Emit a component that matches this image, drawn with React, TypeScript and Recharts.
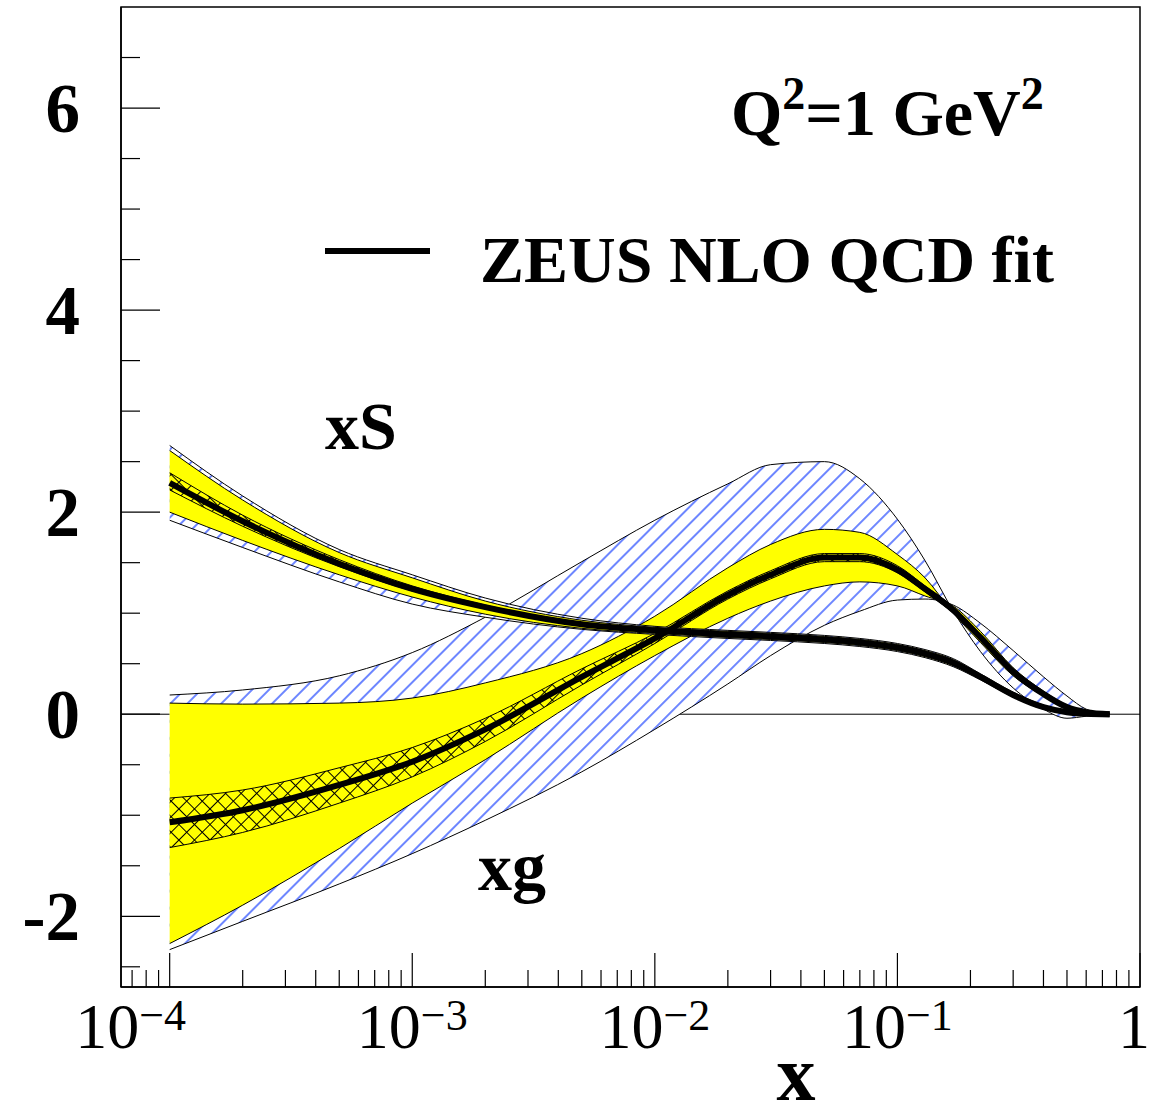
import { ComposedChart, Area, Line, XAxis, YAxis, ReferenceArea, CartesianGrid } from 'recharts';

// x grid (log) and the curves
const xValues = [1e-4, 2e-4, 5e-4, 1e-3, 2e-3, 5e-3, 1e-2, 2e-2, 3e-2, 5e-2, 7e-2, 0.1, 0.13, 0.17, 0.22, 0.3, 0.4, 0.5, 0.6, 0.75];

// sea quark xS
const xsCentral = [2.29, 1.91, 1.49, 1.24, 1.06, 0.89, 0.83, 0.79, 0.77, 0.74, 0.71, 0.66, 0.6, 0.51, 0.37, 0.19, 0.07, 0.02, 0.005, 0];
const xsModelLo = [1.92, 1.65, 1.31, 1.09, 0.96, 0.84, 0.79, 0.75, 0.73, 0.7, 0.67, 0.62, 0.56, 0.47, 0.34, 0.17, 0.05, 0.01, 0, 0];
const xsModelHi = [2.66, 2.16, 1.63, 1.38, 1.15, 0.95, 0.87, 0.83, 0.81, 0.78, 0.75, 0.7, 0.64, 0.55, 0.4, 0.22, 0.09, 0.03, 0.01, 0];
const xsExpLo = [2.0, 1.72, 1.38, 1.16, 0.99, 0.85, 0.8, 0.76, 0.74, 0.71, 0.68, 0.63, 0.57, 0.48, 0.35, 0.175, 0.06, 0.015, 0.002, 0];
const xsExpHi = [2.61, 2.12, 1.6, 1.35, 1.12, 0.93, 0.86, 0.82, 0.8, 0.77, 0.74, 0.69, 0.63, 0.54, 0.39, 0.205, 0.08, 0.025, 0.008, 0];
const xsInnerLo = [2.22, 1.86, 1.46, 1.22, 1.05, 0.88, 0.82, 0.78, 0.76, 0.73, 0.7, 0.65, 0.59, 0.5, 0.36, 0.185, 0.065, 0.018, 0.004, 0];
const xsInnerHi = [2.39, 1.97, 1.53, 1.27, 1.08, 0.9, 0.84, 0.8, 0.78, 0.75, 0.72, 0.67, 0.61, 0.52, 0.38, 0.195, 0.075, 0.022, 0.006, 0];

// gluon xg
const xgCentral = [-1.07, -0.95, -0.7, -0.47, -0.15, 0.37, 0.75, 1.18, 1.38, 1.55, 1.55, 1.43, 1.24, 1.03, 0.76, 0.42, 0.2, 0.07, 0.02, 0];
const xgModelA = [0.19, 0.24, 0.38, 0.61, 0.96, 1.51, 1.92, 2.28, 2.47, 2.5, 2.33, 1.93, 1.52, 1.02, 0.62, 0.26, 0.05, -0.04, -0.02, 0];
const xgModelB = [-2.33, -2.05, -1.68, -1.38, -1.05, -0.57, -0.15, 0.3, 0.58, 0.88, 1.02, 1.13, 1.14, 1.08, 0.9, 0.63, 0.37, 0.18, 0.05, 0];
const xgExpA = [0.11, 0.1, 0.11, 0.16, 0.31, 0.6, 0.97, 1.45, 1.68, 1.83, 1.8, 1.58, 1.35, 1.0, 0.71, 0.38, 0.18, 0.06, 0.015, 0];
const xgExpB = [-2.27, -1.89, -1.33, -0.88, -0.45, 0.16, 0.58, 0.95, 1.12, 1.27, 1.31, 1.27, 1.17, 1.07, 0.82, 0.46, 0.23, 0.09, 0.03, 0];
const xgInnerLo = [-1.32, -1.17, -0.88, -0.62, -0.27, 0.29, 0.7, 1.14, 1.34, 1.51, 1.51, 1.4, 1.21, 1.0, 0.74, 0.4, 0.19, 0.065, 0.015, 0];
const xgInnerHi = [-0.83, -0.75, -0.53, -0.33, -0.04, 0.45, 0.8, 1.22, 1.42, 1.59, 1.59, 1.47, 1.27, 1.06, 0.78, 0.44, 0.21, 0.075, 0.025, 0];

// axes
const X_MIN = 6.3e-5;
const xMajorTicks = [1e-4, 1e-3, 1e-2, 1e-1, 1];
const xTickLabels = [
  { base: '10', exp: '\u22124' },
  { base: '10', exp: '\u22123' },
  { base: '10', exp: '\u22122' },
  { base: '10', exp: '\u22121' },
  { base: '1', exp: '' },
];
const xMinorTicks: number[] = [7e-5, 8e-5, 9e-5];
[1e-4, 1e-3, 1e-2, 1e-1].forEach(d => {
  for (let k = 2; k <= 9; k++) xMinorTicks.push(d * k);
});
const xTicks = [...xMinorTicks, ...xMajorTicks].sort((a, b) => a - b);

const yMajorTicks = [-2, 0, 2, 4, 6];
const yTicks = [-2.5, -2, -1.5, -1, -0.5, 0, 0.5, 1, 1.5, 2, 2.5, 3, 3.5, 4, 4.5, 5, 5.5, 6, 6.5];

const data = xValues.map((x, i) => ({
  x,
  xsC: xsCentral[i],
  xsModel: [xsModelLo[i], xsModelHi[i]],
  xsExp: [xsExpLo[i], xsExpHi[i]],
  xsInner: [xsInnerLo[i], xsInnerHi[i]],
  xgC: xgCentral[i],
  xgModel: [xgModelB[i], xgModelA[i]],
  xgExp: [xgExpB[i], xgExpA[i]],
  xgInner: [xgInnerLo[i], xgInnerHi[i]],
}));

const SERIF = '"Liberation Serif", "Times New Roman", serif';
const YELLOW = '#ffff00';

function XTick(props: any) {
  const { x, y, payload } = props;
  const idx = xMajorTicks.indexOf(payload.value);
  const major = idx >= 0;
  const lab = major ? xTickLabels[idx] : null;
  // ROOT puts the first decade label at the frame edge, and pulls the last one in
  const shift = idx === 0 ? -39 : idx === xMajorTicks.length - 1 ? -6 : 0;
  return (
    <g>
      <line x1={x} x2={x} y1={y} y2={y - (major ? 34 : 17)} stroke="#000" strokeWidth={1.2} />
      {lab && (
        <text x={x + shift} y={y + 61} textAnchor="middle" fontFamily={SERIF} fontSize={64} fill="#000">
          <tspan>{lab.base}</tspan>
          {lab.exp && <tspan dy={-18} fontSize={44}>{lab.exp}</tspan>}
        </text>
      )}
    </g>
  );
}

function YTick(props: any) {
  const { x, y, payload } = props;
  const major = yMajorTicks.includes(payload.value);
  return (
    <g>
      <line x1={x} x2={x + (major ? 39 : 19)} y1={y} y2={y} stroke="#000" strokeWidth={1.2} />
      {major && (
        <text x={x - 41} y={y + 24} textAnchor="end" fontFamily={SERIF} fontWeight="bold" fontSize={69} fill="#000">
          {payload.value}
        </text>
      )}
    </g>
  );
}

export default function App() {
  return (
    <div style={{ position: 'absolute', left: 0, top: 0, width: 1149, height: 1119, background: '#fff' }}>
      <svg width={0} height={0} style={{ position: 'absolute' }}>
        <defs>
          <pattern id="hatchBlue" patternUnits="userSpaceOnUse" width={12} height={12} patternTransform="rotate(45)">
            <rect width={12} height={12} fill="#fff" />
            <line x1={6} y1={0} x2={6} y2={12} stroke="#1f45ff" strokeWidth={1.3} />
          </pattern>
          <pattern id="crossBlack" patternUnits="userSpaceOnUse" width={11} height={11} patternTransform="rotate(45)">
            <rect width={11} height={11} fill={YELLOW} />
            <line x1={5.5} y1={0} x2={5.5} y2={11} stroke="#000" strokeWidth={1} />
            <line x1={0} y1={5.5} x2={11} y2={5.5} stroke="#000" strokeWidth={1} />
          </pattern>
        </defs>
      </svg>
      <ComposedChart width={1149} height={1119} data={data} margin={{ top: 7, right: 9, bottom: 0, left: 0 }}>
        <CartesianGrid horizontal vertical={false} horizontalValues={[0]} stroke="#000" strokeWidth={1} />
        <XAxis
          dataKey="x"
          type="number"
          scale="log"
          domain={[X_MIN, 1]}
          allowDataOverflow
          ticks={xTicks}
          interval={0}
          tickSize={0}
          tickMargin={0}
          tickLine={false}
          height={132}
          axisLine={{ stroke: '#000', strokeWidth: 1.5 }}
          tick={XTick}
        />
        <YAxis
          type="number"
          domain={[-2.7, 7]}
          allowDataOverflow
          ticks={yTicks}
          interval={0}
          tickSize={0}
          tickMargin={0}
          tickLine={false}
          width={121}
          axisLine={{ stroke: '#000', strokeWidth: 1.5 }}
          tick={YTick}
        />
        <Area dataKey="xgModel" type="monotone" fill="url(#hatchBlue)" fillOpacity={1} stroke="#000" strokeWidth={1} isAnimationActive={false} />
        <Area dataKey="xgExp" type="monotone" fill={YELLOW} fillOpacity={1} stroke="#000" strokeWidth={1} isAnimationActive={false} />
        <Area dataKey="xgInner" type="monotone" fill="url(#crossBlack)" fillOpacity={1} stroke="#000" strokeWidth={1} isAnimationActive={false} />
        <Area dataKey="xsModel" type="monotone" fill="url(#hatchBlue)" fillOpacity={1} stroke="#000" strokeWidth={1} isAnimationActive={false} />
        <Area dataKey="xsExp" type="monotone" fill={YELLOW} fillOpacity={1} stroke="#000" strokeWidth={1} isAnimationActive={false} />
        <Area dataKey="xsInner" type="monotone" fill="url(#crossBlack)" fillOpacity={1} stroke="#000" strokeWidth={1} isAnimationActive={false} />
        <Line dataKey="xgC" type="monotone" stroke="#000" strokeWidth={6} dot={false} isAnimationActive={false} />
        <Line dataKey="xsC" type="monotone" stroke="#000" strokeWidth={6} dot={false} isAnimationActive={false} />
        <ReferenceArea x1={X_MIN} x2={1} y1={-2.7} y2={7} fill="none" stroke="#000" strokeWidth={1.5} />
      </ComposedChart>
      <svg width={1149} height={1119} style={{ position: 'absolute', left: 0, top: 0, pointerEvents: 'none' }}>
        <g fontFamily={SERIF} fontWeight="bold" fill="#000">
          <text x={731} y={135} fontSize={66}>
            <tspan>Q</tspan>
            <tspan dy={-26} fontSize={46}>2</tspan>
            <tspan dy={26}>=1 GeV</tspan>
            <tspan dy={-26} fontSize={46}>2</tspan>
          </text>
          <line x1={325} x2={430} y1={251} y2={251} stroke="#000" strokeWidth={6} />
          <text x={480} y={282} fontSize={66}>ZEUS NLO QCD fit</text>
          <text x={325} y={449} fontSize={68}>xS</text>
          <text x={478} y={890} fontSize={68}>xg</text>
          <text x={796} y={1100} fontSize={78} textAnchor="middle">x</text>
        </g>
      </svg>
    </div>
  );
}
